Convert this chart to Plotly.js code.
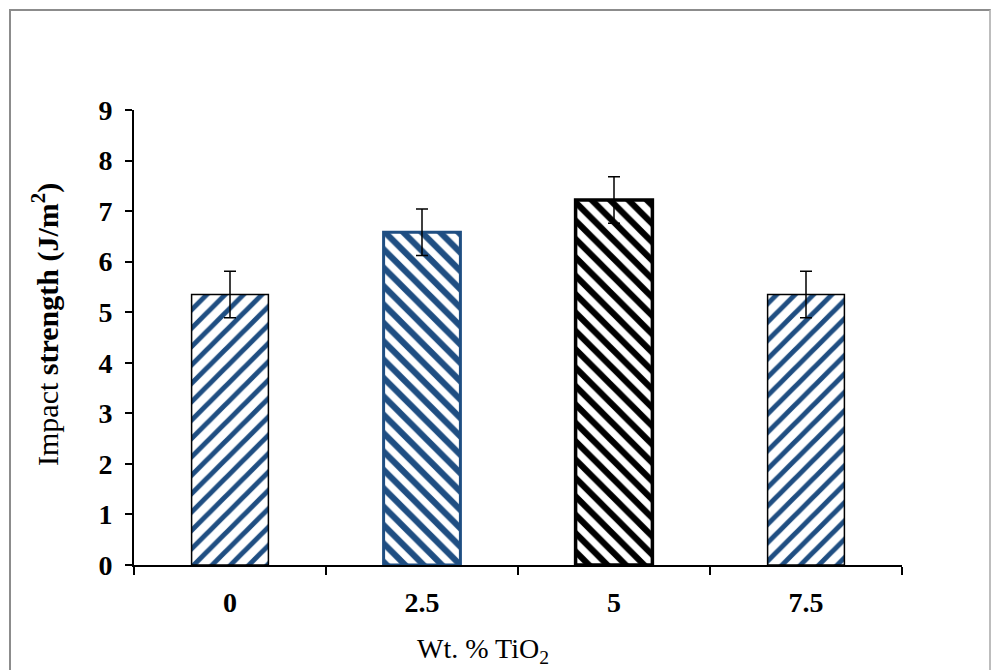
<!DOCTYPE html>
<html>
<head>
<meta charset="utf-8">
<script src="https://cdn.plot.ly/plotly-3.0.1.min.js"></script>
<style>
  html, body { margin: 0; padding: 0; background: #fff; }
  #frame { position: absolute; left: 9px; top: 9px; width: 978px; height: 700px;
           border-left: 2px solid #8c8c8c; border-top: 2px solid #8c8c8c; border-right: 2px solid #bdbdbd; }
  #chart { position: absolute; left: 0; top: 0; width: 991px; height: 670px; }
</style>
</head>
<body>
<div id="frame"></div>
<div id="chart"></div>
<script>
const categories = ["0", "2.5", "5", "7.5"];
const impactStrength = [5.35, 6.58, 7.22, 5.35];
const errorValues = [0.46, 0.46, 0.46, 0.46];
const yTicks = [0, 1, 2, 3, 4, 5, 6, 7, 8, 9];

const blue = "#1F4E82";
const trace = {
  type: "bar",
  x: categories,
  y: impactStrength,
  width: 0.4,
  marker: {
    color: "#ffffff",
    pattern: {
      shape: ["/", "\\", "\\", "/"],
      fgcolor: [blue, blue, "#000000", blue],
      bgcolor: "#ffffff",
      size: 13,
      solidity: [0.38, 0.48, 0.48, 0.38]
    },
    line: { color: ["#000000", blue, "#000000", "#000000"], width: [1.5, 3, 3.5, 1.5] }
  },
  error_y: { type: "data", array: errorValues, visible: true, color: "#000000", thickness: 1.5, width: 6 },
  hoverinfo: "skip"
};

const font = "Liberation Serif, Times New Roman, serif";
const layout = {
  width: 991, height: 670,
  margin: { l: 134, r: 89, t: 110, b: 105 },
  paper_bgcolor: "rgba(0,0,0,0)",
  plot_bgcolor: "rgba(0,0,0,0)",
  showlegend: false,
  font: { family: font, color: "#000000", size: 28 },
  xaxis: {
    type: "category",
    tickson: "boundaries",
    ticks: "outside", ticklen: 8, tickwidth: 2, tickcolor: "#000",
    showline: true, linecolor: "#000", linewidth: 2,
    showgrid: false, zeroline: false,
    tickfont: { family: font, size: 28, color: "#000", weight: "bold" },
    ticklabelstandoff: 11,
    range: [-0.5, 3.5],
    fixedrange: true
  },
  yaxis: {
    range: [0, 9],
    tickvals: yTicks,
    ticks: "outside", ticklen: 7, tickwidth: 2, tickcolor: "#000",
    showline: true, linecolor: "#000", linewidth: 2,
    showgrid: false, zeroline: false,
    tickfont: { family: font, size: 28, color: "#000", weight: "bold" },
    ticklabelstandoff: 7,
    fixedrange: true
  },
  annotations: [
    {
      text: "Wt. % TiO<sub>2</sub>",
      xref: "paper", yref: "paper",
      x: (483 - 134) / 768, y: -0.145, xanchor: "center", yanchor: "top",
      showarrow: false,
      font: { family: font, size: 28, color: "#000" }
    },
    {
      text: "Impact <b>strength (J/m<sup>2</sup>)</b>",
      xref: "paper", yref: "paper",
      x: (45 - 134) / 768, y: (565 - 325) / 455, xanchor: "center", yanchor: "middle",
      textangle: -90,
      showarrow: false,
      font: { family: font, size: 30, color: "#000" }
    }
  ]
};

Plotly.newPlot("chart", [trace], layout, { staticPlot: true, displayModeBar: false });
</script>
</body>
</html>
